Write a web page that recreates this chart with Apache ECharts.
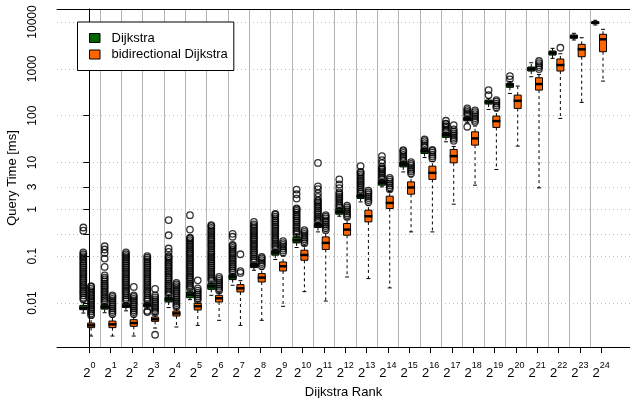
<!DOCTYPE html>
<html>
<head>
<meta charset="utf-8">
<script src="https://cdn.jsdelivr.net/npm/echarts@6/dist/echarts.min.js"></script>
<style>
  html, body { margin: 0; padding: 0; background: #fff; }
  #chart { width: 630px; height: 398px; }
</style>
</head>
<body>
<div id="chart"></div>
<script>
// exponent of the Dijkstra rank (label is 2^k)
const rankExp = [0, 1, 2, 3, 4, 5, 6, 7, 8, 9, 10, 11, 12, 13, 14, 15, 16, 17, 18, 19, 20, 21, 22, 23, 24];

// y axis ticks / labels (ms)
const yTickValues = [0.01, 0.1, 0.3, 1, 3, 10, 100, 1000, 10000];
const yLabelValues = [0.01, 0.1, 1, 3, 10, 100, 1000, 10000];

// [min, Q1, median, Q3, max] in ms
const dijkstraBoxes = [
  [0.0061, 0.0072, 0.0078, 0.0089, 0.0105],
  [0.0062, 0.0074, 0.0082, 0.0092, 0.0098],
  [0.0068, 0.0080, 0.0086, 0.0097, 0.0102],
  [0.0074, 0.0082, 0.0089, 0.0100, 0.0105],
  [0.0080, 0.0105, 0.0120, 0.0134, 0.0145],
  [0.0118, 0.0130, 0.0151, 0.0172, 0.019],
  [0.0146, 0.0196, 0.0227, 0.026, 0.028],
  [0.0239, 0.0316, 0.036, 0.0404, 0.043],
  [0.050, 0.057, 0.063, 0.0695, 0.072],
  [0.085, 0.105, 0.119, 0.134, 0.14],
  [0.153, 0.192, 0.219, 0.258, 0.29],
  [0.33, 0.409, 0.452, 0.498, 0.53],
  [0.713, 0.787, 0.88, 1.04, 1.08],
  [1.44, 1.71, 1.91, 2.07, 2.15],
  [3.02, 3.28, 3.67, 4.2, 4.3],
  [6.3, 8.07, 9.08, 10.3, 10.7],
  [12.8, 15.6, 17.5, 20, 20.5],
  [27.7, 34.4, 38.5, 43, 44],
  [72, 77.8, 84.5, 91.9, 95],
  [136, 177, 195, 215, 230],
  [299, 403, 451, 490, 540],
  [678, 898, 991, 1094, 1350],
  [1676, 1972, 2178, 2404, 2742],
  [4130, 4487, 4853, 5284, 5741],
  [8630, 9204, 9680, 10160, 10890]
];

const bidirBoxes = [
  [0.00197, 0.00298, 0.00333, 0.00373, 0.0048],
  [0.00197, 0.00298, 0.0035, 0.00412, 0.005],
  [0.00197, 0.00318, 0.00373, 0.00441, 0.005],
  [0.00292, 0.00406, 0.00449, 0.00502, 0.0057],
  [0.00307, 0.00527, 0.0060, 0.00675, 0.0075],
  [0.00333, 0.0071, 0.0085, 0.0099, 0.0107],
  [0.00427, 0.0105, 0.0126, 0.0146, 0.017],
  [0.00333, 0.0172, 0.0206, 0.0247, 0.03],
  [0.00427, 0.0281, 0.0349, 0.0425, 0.052],
  [0.0085, 0.0483, 0.061, 0.0751, 0.1],
  [0.0175, 0.0818, 0.106, 0.134, 0.17],
  [0.011, 0.139, 0.192, 0.258, 0.33],
  [0.036, 0.28, 0.37, 0.498, 0.62],
  [0.0332, 0.54, 0.713, 0.96, 1.2],
  [0.021, 1.04, 1.37, 1.91, 2.4],
  [0.33, 2.11, 2.93, 3.86, 4.9],
  [0.33, 4.35, 6.01, 8.36, 10.5],
  [1.29, 9.84, 13.7, 19, 22],
  [3.28, 23.5, 32.7, 45.2, 60],
  [7.11, 56.1, 76.6, 98, 125],
  [22.4, 143, 208, 275, 429],
  [2.87, 352, 473, 646, 760],
  [87.5, 898, 1205, 1622, 2100],
  [192, 1815, 2612, 3342, 4624],
  [548, 2323, 4276, 5470, 6982]
];

// outliers (ms), one list per rank
const dijkstraOutliers = [
  [0.012, 0.013, 0.0145, 0.016, 0.0175, 0.019, 0.021, 0.023, 0.025, 0.0275, 0.03, 0.033, 0.036, 0.04, 0.044, 0.048, 0.053, 0.058, 0.064, 0.07, 0.077, 0.085, 0.093, 0.1, 0.11, 0.12, 0.35, 0.41],
  [0.0105, 0.0115, 0.0125, 0.0135, 0.015, 0.0165, 0.018, 0.02, 0.022, 0.024, 0.026, 0.029, 0.032, 0.035, 0.039, 0.059, 0.089, 0.117, 0.139, 0.163],
  [0.011, 0.012, 0.013, 0.0145, 0.016, 0.0175, 0.019, 0.021, 0.023, 0.025, 0.0275, 0.03, 0.033, 0.036, 0.04, 0.044, 0.048, 0.053, 0.058, 0.064, 0.07, 0.077, 0.085, 0.093, 0.1, 0.11, 0.12],
  [0.0064, 0.0068, 0.011, 0.012, 0.013, 0.0145, 0.016, 0.0175, 0.019, 0.021, 0.023, 0.025, 0.0275, 0.03, 0.033, 0.036, 0.04, 0.044, 0.048, 0.053, 0.058, 0.064, 0.07, 0.077, 0.085, 0.093, 0.1],
  [0.015, 0.0165, 0.018, 0.02, 0.022, 0.024, 0.026, 0.029, 0.032, 0.035, 0.038, 0.042, 0.046, 0.05, 0.055, 0.06, 0.066, 0.072, 0.079, 0.087, 0.095, 0.1, 0.123, 0.146, 0.28, 0.59],
  [0.02, 0.022, 0.024, 0.026, 0.029, 0.032, 0.035, 0.038, 0.042, 0.046, 0.05, 0.055, 0.06, 0.066, 0.072, 0.079, 0.087, 0.095, 0.105, 0.115, 0.125, 0.138, 0.15, 0.165, 0.18, 0.2, 0.22, 0.24, 0.25, 0.37, 0.75],
  [0.03, 0.033, 0.036, 0.04, 0.044, 0.048, 0.053, 0.058, 0.064, 0.07, 0.077, 0.085, 0.093, 0.1, 0.11, 0.12, 0.13, 0.145, 0.16, 0.175, 0.19, 0.21, 0.23, 0.25, 0.275, 0.3, 0.33, 0.36, 0.4, 0.44, 0.46],
  [0.045, 0.05, 0.055, 0.06, 0.066, 0.072, 0.079, 0.087, 0.095, 0.105, 0.115, 0.125, 0.138, 0.15, 0.165, 0.175, 0.26, 0.3],
  [0.075, 0.082, 0.09, 0.1, 0.11, 0.12, 0.13, 0.145, 0.16, 0.175, 0.19, 0.21, 0.23, 0.25, 0.275, 0.3, 0.33, 0.36, 0.4, 0.44, 0.48, 0.54],
  [0.145, 0.16, 0.175, 0.19, 0.21, 0.23, 0.25, 0.275, 0.3, 0.33, 0.36, 0.4, 0.44, 0.48, 0.53, 0.58, 0.64, 0.7, 0.77, 0.8],
  [0.3, 0.33, 0.36, 0.4, 0.44, 0.48, 0.53, 0.58, 0.64, 0.7, 0.77, 0.85, 0.93, 1.0, 1.05, 1.7, 2.1, 2.65],
  [0.55, 0.6, 0.66, 0.72, 0.79, 0.87, 0.95, 1.05, 1.15, 1.25, 1.38, 1.5, 1.57, 1.85, 2.2, 2.7, 3.1, 9.8],
  [1.1, 1.2, 1.3, 1.45, 1.6, 1.75, 1.9, 2.1, 2.3, 2.83, 3.4, 4.35],
  [2.2, 2.4, 2.65, 2.9, 3.2, 3.5, 3.85, 4.2, 4.6, 5.1, 5.6, 6.1, 6.3, 8.4],
  [4.5, 4.9, 5.4, 5.9, 6.5, 7.1, 7.5, 8.1, 9.7, 11.2, 13.7],
  [11, 12, 13.2, 14.5, 16, 17.5, 18.4],
  [21.5, 23.5, 26, 28.5, 31],
  [46, 50, 55, 60, 66, 68, 78],
  [58, 100, 110, 120, 132, 143],
  [275, 352],
  [597, 702],
  [], [], [], []
];

const bidirOutliers = [
  [0.0055, 0.006, 0.0066, 0.0072, 0.0079, 0.0087, 0.0095, 0.0105, 0.0115, 0.0125, 0.0138, 0.015, 0.0165, 0.018, 0.02, 0.022, 0.023],
  [0.0058, 0.0064, 0.007, 0.0077, 0.0085, 0.0093, 0.0102, 0.0112, 0.0123, 0.0135, 0.0145],
  [0.0058, 0.0064, 0.007, 0.0077, 0.0085, 0.0093, 0.0102, 0.0112, 0.0123, 0.0135, 0.0145, 0.022],
  [0.0021, 0.0062, 0.0068, 0.0075, 0.0082, 0.009, 0.0099, 0.0109, 0.012, 0.0132, 0.0145, 0.02],
  [0.0083, 0.0091, 0.01, 0.011, 0.012, 0.0132, 0.0145, 0.016, 0.0175, 0.019, 0.021, 0.023, 0.025, 0.027],
  [0.0115, 0.0126, 0.0138, 0.0152, 0.0167, 0.0184, 0.0205, 0.0305],
  [0.0185, 0.0203, 0.0223, 0.0245, 0.027, 0.0297, 0.0327, 0.036],
  [0.044, 0.048, 0.11],
  [0.062, 0.068, 0.075, 0.082, 0.09, 0.096],
  [0.12, 0.132, 0.145, 0.16, 0.175, 0.19, 0.21],
  [0.19, 0.21, 0.23, 0.25, 0.275, 0.3, 0.33, 0.36],
  [0.36, 0.4, 0.44, 0.48, 0.53, 0.58, 0.64, 0.7, 0.75],
  [0.69, 0.76, 0.83, 0.91, 1.0, 1.1, 1.2],
  [1.44, 1.58, 1.74, 1.9, 2.1, 2.3, 2.5],
  [2.7, 2.95, 3.25, 3.55, 3.9, 4.3, 4.7],
  [5.8, 6.4, 7.0, 7.7, 8.5, 9.3, 10.2],
  [12.2, 13.4, 14.7, 16.2, 17.8, 18.6],
  [29, 32, 35, 38.5, 42, 46, 51, 63],
  [74, 81, 89, 98, 108, 119, 130],
  [150, 165, 181, 199, 215],
  [],
  [990, 1090, 1200, 1320, 1470],
  [2825],
  [], []
];

// layout
const X_MIN = -1.514, X_MAX = 25.35;
const Y_MIN = 0.00115, Y_MAX = 18970;
const GREEN_OFF = -0.28, ORANGE_OFF = 0.085;
const BOX_W = 7, STAPLE_W = 4;
const GREEN = '#006400', ORANGE = '#ff6600';
const FONT = '"Liberation Sans", Arial, Helvetica, sans-serif';

const groupBounds = rankExp.slice(0, -1).map(k => k + 0.5);

function renderBox(params, api) {
  const x = api.value(0);
  const lo = api.coord([x, api.value(1)]);
  const q1 = api.coord([x, api.value(2)]);
  const md = api.coord([x, api.value(3)]);
  const q3 = api.coord([x, api.value(4)]);
  const hi = api.coord([x, api.value(5)]);
  const cx = lo[0];
  const hw = BOX_W / 2, sw = STAPLE_W / 2;
  const dash = { stroke: '#000', lineWidth: 1, lineDash: [3, 3] };
  const solid = { stroke: '#000', lineWidth: 1 };
  return {
    type: 'group',
    children: [
      { type: 'line', shape: { x1: cx, y1: q3[1], x2: cx, y2: hi[1] }, style: dash },
      { type: 'line', shape: { x1: cx, y1: q1[1], x2: cx, y2: lo[1] }, style: dash },
      { type: 'line', shape: { x1: cx - sw, y1: hi[1], x2: cx + sw, y2: hi[1] }, style: solid },
      { type: 'line', shape: { x1: cx - sw, y1: lo[1], x2: cx + sw, y2: lo[1] }, style: solid },
      { type: 'rect', shape: { x: cx - hw, y: q3[1], width: BOX_W, height: q1[1] - q3[1] },
        style: { fill: api.visual('color'), stroke: '#000', lineWidth: 1 } },
      { type: 'line', shape: { x1: cx - hw - 0.5, y1: md[1], x2: cx + hw + 0.5, y2: md[1] },
        style: { stroke: '#000', lineWidth: 2.5 } }
    ]
  };
}

function boxData(boxes, off) {
  return boxes.map((b, i) => [rankExp[i] + off].concat(b));
}

function outlierData(lists, off) {
  const out = [];
  lists.forEach((vals, i) => vals.forEach(v => out.push([rankExp[i] + off, v])));
  return out;
}

const chart = echarts.init(document.getElementById('chart'));

chart.setOption({
  animation: false,
  backgroundColor: '#fff',
  textStyle: { fontFamily: FONT },
  grid: { left: 57, right: 0, top: 9, bottom: 51, containLabel: false, outerBoundsMode: 'none' },
  legend: {
    data: ['Dijkstra', 'bidirectional Dijkstra'],
    orient: 'vertical',
    left: 77.5,
    top: 22,
    padding: [9, 6, 9, 11.5],
    itemGap: 2.5,
    itemWidth: 10.5,
    itemHeight: 9,
    icon: 'rect',
    itemStyle: { borderColor: '#000', borderWidth: 1 },
    borderColor: '#000',
    borderWidth: 1,
    backgroundColor: '#fff',
    textStyle: { fontSize: 13, color: '#000', lineHeight: 14, padding: [0, 0, 0, 6.5] },
    selectedMode: false
  },
  xAxis: [
    {
      type: 'value',
      min: X_MIN,
      max: X_MAX,
      position: 'bottom',
      name: 'Dijkstra Rank',
      nameLocation: 'middle',
      nameGap: 39,
      nameTextStyle: { fontSize: 13, color: '#000' },
      axisLine: { show: true, lineStyle: { color: '#000', width: 1 } },
      axisTick: { show: true, length: 6, customValues: rankExp, lineStyle: { color: '#000' } },
      axisLabel: {
        customValues: rankExp,
        margin: 17,
        color: '#000',
        formatter: v => '{b|2}{s|' + v + '}',
        rich: {
          b: { fontSize: 13, lineHeight: 14, padding: [5, 0, 0, 0], color: '#000' },
          s: { fontSize: 9, lineHeight: 9, padding: [0, 0, 10, 0], color: '#000' }
        }
      },
      splitLine: { show: false }
    },
    {
      type: 'value',
      min: X_MIN,
      max: X_MAX,
      position: 'top',
      axisLine: { show: true, onZero: false, lineStyle: { color: '#000', width: 1 } },
      axisTick: { show: false, customValues: groupBounds },
      axisLabel: { show: false },
      splitLine: { show: true, lineStyle: { color: '#b4b4b4', width: 1 } }
    }
  ],
  yAxis: {
    type: 'log',
    logBase: 10,
    min: Y_MIN,
    max: Y_MAX,
    name: 'Query Time [ms]',
    nameLocation: 'middle',
    nameRotate: 90,
    nameGap: 38,
    nameTextStyle: { fontSize: 13, color: '#000' },
    axisLine: { show: true, lineStyle: { color: '#000', width: 1 } },
    axisTick: { show: true, length: 6, customValues: yTickValues, lineStyle: { color: '#000' } },
    axisLabel: {
      customValues: yLabelValues,
      rotate: 90,
      margin: 18,
      fontSize: 12,
      color: '#000',
      formatter: v => String(v)
    },
    splitLine: { show: true, lineStyle: { color: '#bbbbbb', width: 1, type: [1, 3] } }
  },
  series: [
    {
      name: 'Dijkstra',
      type: 'custom',
      renderItem: renderBox,
      itemStyle: { color: GREEN },
      encode: { x: 0, y: [1, 2, 3, 4, 5] },
      data: boxData(dijkstraBoxes, GREEN_OFF),
      silent: true,
      z: 2
    },
    {
      name: 'bidirectional Dijkstra',
      type: 'custom',
      renderItem: renderBox,
      itemStyle: { color: ORANGE },
      encode: { x: 0, y: [1, 2, 3, 4, 5] },
      data: boxData(bidirBoxes, ORANGE_OFF),
      silent: true,
      z: 2
    },
    {
      name: 'Dijkstra outliers',
      type: 'scatter',
      symbol: 'circle',
      symbolSize: 6.5,
      itemStyle: { color: 'none', borderColor: '#000', borderWidth: 1.3 },
      data: outlierData(dijkstraOutliers, GREEN_OFF),
      silent: true,
      z: 3
    },
    {
      name: 'bidirectional outliers',
      type: 'scatter',
      symbol: 'circle',
      symbolSize: 6.5,
      itemStyle: { color: 'none', borderColor: '#000', borderWidth: 1.3 },
      data: outlierData(bidirOutliers, ORANGE_OFF),
      silent: true,
      z: 3
    }
  ]
});
</script>
</body>
</html>
